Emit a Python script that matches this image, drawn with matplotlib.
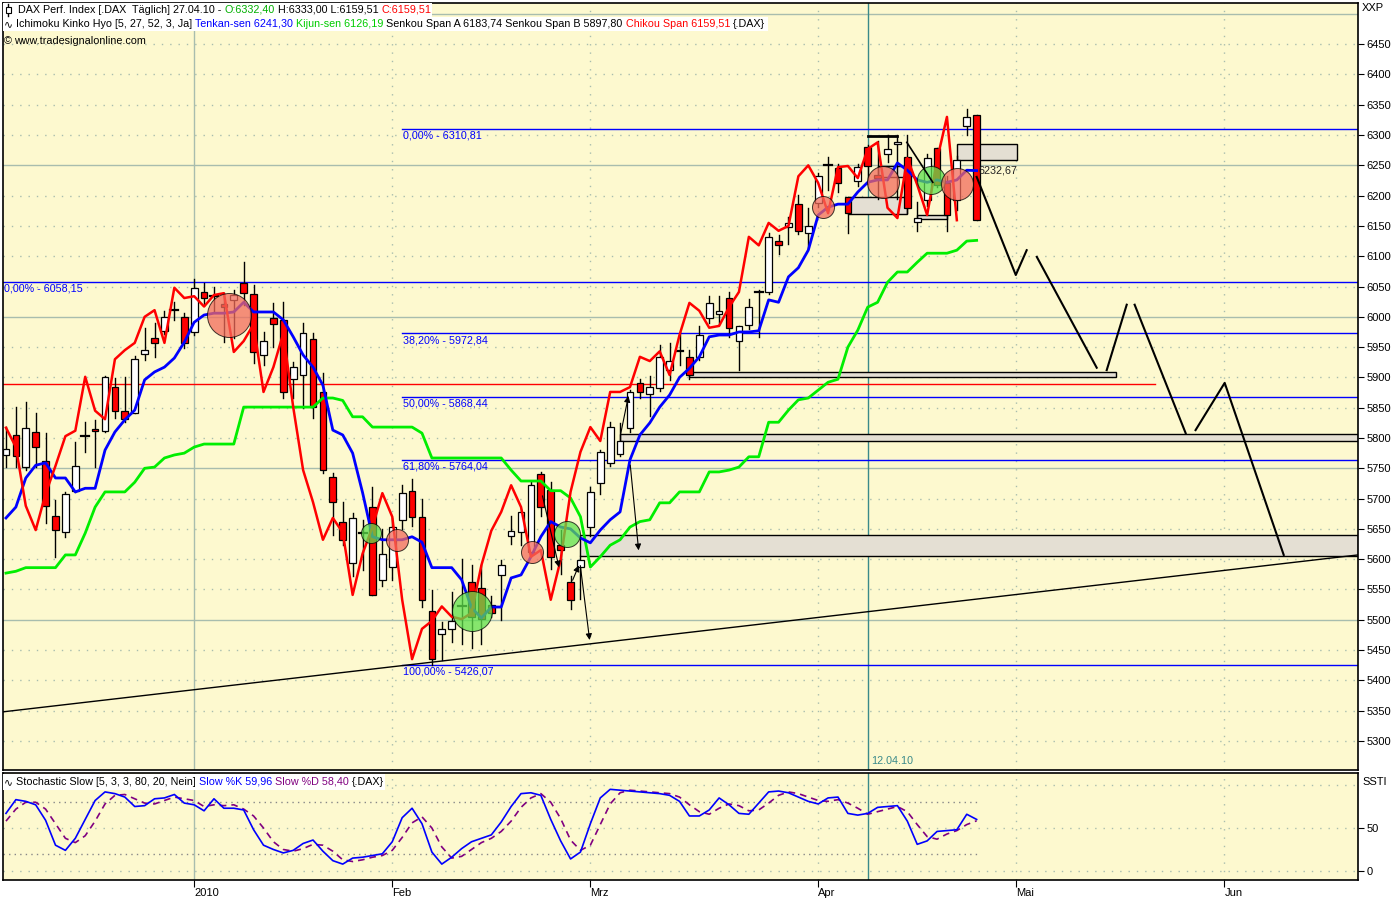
import matplotlib
matplotlib.use("Agg")
import matplotlib.pyplot as plt
from matplotlib.patches import Rectangle
from matplotlib.lines import Line2D

plt.rcParams["font.family"] = ["Liberation Sans", "DejaVu Sans"]
plt.rcParams["font.size"] = 8

W, H = 1400, 900

# ---- daily bars, index 0 = 04.01.2010 (trading-day index)
bar_idx = list(range(-19, 80))
opens = [5772, 5805, 5752, 5810, 5762, 5671, 5645, 5713, 5802, 5815, 5812, 5884, 5845, 5841, 5939, 5965, 5977, 6010, 6000,
         5975, 6041, 6033, 6021, 6027, 6056, 6038, 5937, 5998, 5995,
         5897, 5904, 5963, 5876, 5736, 5661, 5594, 5643, 5686, 5566,
         5587, 5664, 5712, 5670, 5515, 5477, 5485, 5521, 5562, 5553,
         5524, 5574, 5638, 5645, 5612, 5740, 5714, 5623, 5562, 5587,
         5653, 5726, 5759, 5773, 5817, 5891, 5873, 5883, 5912, 5942,
         5934, 5934, 5998, 6005, 6031, 5960, 5986, 6040, 6041, 6125,
         6148, 6186, 6138, 6188, 6249, 6246, 6198, 6224, 6280, 6234,
         6269, 6285, 6264, 6157, 6193, 6279, 6221, 6193, 6315, 6332.40]
highs = [5818, 5851, 5859, 5841, 5808, 5698, 5711, 5793, 5826, 5830, 5902, 5899, 5901, 5936, 5982, 5990, 6009, 6024, 6006,
         6062, 6056, 6050, 6039, 6045, 6090, 6052, 5975, 6022, 6024,
         5925, 5990, 5973, 5908, 5743, 5694, 5676, 5664, 5719, 5650,
         5668, 5722, 5733, 5699, 5549, 5497, 5545, 5600, 5590, 5590,
         5540, 5598, 5672, 5683, 5727, 5744, 5727, 5648, 5572, 5605,
         5719, 5780, 5827, 5824, 5880, 5897, 5902, 5953, 5956, 5975,
         5945, 5985, 6034, 6034, 6041, 5985, 6029, 6045, 6138, 6135,
         6165, 6201, 6179, 6237, 6263, 6252, 6198, 6252, 6283, 6290,
         6300, 6300, 6300, 6190, 6268, 6279, 6232, 6265, 6343, 6333.00]
lows = [5752, 5752, 5747, 5752, 5660, 5604, 5637, 5711, 5777, 5752, 5810, 5833, 5826, 5841, 5929, 5934, 5972, 5995, 5949,
        5970, 6020, 6010, 5958, 5965, 6020, 5924, 5920, 5950, 5866,
        5866, 5850, 5833, 5743, 5640, 5624, 5573, 5582, 5541, 5555,
        5565, 5650, 5655, 5521, 5426.07, 5433, 5463, 5460, 5454, 5460,
        5505, 5500, 5625, 5624, 5612, 5672, 5583, 5575, 5518, 5535,
        5639, 5708, 5754, 5770, 5810, 5866, 5837, 5878, 5895, 5920,
        5898, 5928, 5990, 5988, 5966, 5912, 5980, 5967, 6038, 6104,
        6121, 6136, 6113, 6182, 6210, 6206, 6138, 6216, 6219, 6194,
        6256, 6194, 6172, 6141, 6183, 6214, 6141, 6176, 6300, 6159.51]
closes = [5782, 5770, 5817, 5785, 5688, 5648, 5708, 5754, 5803, 5812, 5901, 5845, 5831, 5930, 5945, 5957, 6000, 6011, 5957,
          6048, 6031, 6034, 6017, 6036, 6039, 5942, 5960, 5988, 5876,
          5917, 5973, 5851, 5747, 5694, 5632, 5668, 5644, 5541, 5609,
          5653, 5709, 5670, 5533, 5435, 5485, 5498, 5522, 5505, 5501,
          5511, 5590, 5647, 5678, 5722, 5686, 5604, 5615, 5533, 5599,
          5711, 5777, 5818, 5795, 5876, 5876, 5884, 5934, 5927, 5943,
          5904, 5970, 6023, 6010, 5982, 5985, 6016, 6041, 6132, 6118,
          6155, 6142, 6150, 6232, 6250, 6221, 6171, 6247, 6249, 6229,
          6277, 6288, 6180, 6163, 6262, 6218, 6168, 6259, 6330, 6159.51]
chikou_shift = 2

tenkan = [5668, 5686, 5734, 5755, 5759, 5734, 5734, 5711, 5717, 5717, 5780, 5810, 5830, 5846, 5896, 5909, 5917, 5932, 5958,
          5991, 6003, 6006, 6006, 6008, 6024, 6008, 6008, 6008, 5995,
          5967, 5937, 5917, 5887, 5813, 5805, 5775, 5710, 5637, 5632,
          5632, 5632, 5637, 5628, 5586, 5586, 5586, 5566, 5520, 5503,
          5521, 5521, 5569, 5574, 5604, 5637, 5662, 5653, 5650, 5635,
          5627, 5648, 5665, 5678, 5764, 5805, 5825, 5851, 5871, 5900,
          5915, 5934, 5967, 5970, 5970, 5975, 5975, 5977, 6028, 6024,
          6066, 6081, 6110, 6168, 6181, 6186, 6186, 6206, 6222, 6226,
          6226, 6254, 6242, 6226, 6222, 6226, 6222, 6226, 6242, 6241.30]
kijun = [5577, 5580, 5586, 5586, 5586, 5586, 5607, 5607, 5643, 5686, 5711, 5711, 5711, 5727, 5750, 5752, 5767, 5772, 5775,
         5785, 5790, 5790, 5790, 5790, 5851, 5851, 5851, 5851, 5851,
         5851, 5851, 5851, 5866, 5866, 5862, 5835, 5835, 5818, 5818,
         5818, 5818, 5818, 5808, 5767, 5767, 5767, 5767, 5767, 5767,
         5767, 5767, 5747, 5729, 5729, 5729, 5713, 5713, 5701, 5670,
         5587, 5604, 5623, 5632, 5653, 5662, 5665, 5693, 5693, 5711,
         5711, 5711, 5744, 5744, 5747, 5752, 5769, 5769, 5826, 5826,
         5846, 5863, 5866, 5879, 5892, 5897, 5950, 5978, 6016, 6024,
         6057, 6074, 6074, 6090, 6105, 6105, 6105, 6110, 6125, 6126.19]

stoch_k = [67, 83, 81, 77, 59, 30, 24, 38, 60, 82, 92, 90, 86, 75, 76, 84, 85, 89, 79,
           77, 70, 84, 73, 73, 71, 48, 30, 25, 21,
           24, 32, 36, 23, 12, 8, 15, 16, 18, 20,
           34, 62, 73, 55, 22, 8, 16, 26, 34, 38,
           42, 57, 75, 90, 91, 88, 60, 35, 14, 22,
           55, 85, 95, 94, 93, 92, 91, 90, 88, 81,
           64, 64, 71, 85, 77, 67, 66, 79, 92, 93,
           91, 86, 81, 78, 85, 86, 67, 65, 67, 74,
           75, 76, 58, 31, 35, 46, 47, 48, 66, 59.96]
stoch_d = [58, 72, 80, 80, 72, 55, 38, 33, 41, 58, 78, 88, 89, 84, 79, 78, 82, 86, 84,
           82, 75, 77, 76, 77, 72, 64, 50, 34, 25,
           23, 26, 31, 30, 23, 13, 11, 13, 16, 18,
           24, 39, 56, 63, 50, 28, 15, 17, 25, 33,
           38, 46, 58, 74, 85, 90, 80, 61, 36, 24,
           30, 54, 78, 91, 94, 93, 92, 91, 90, 86,
           77, 69, 66, 73, 78, 76, 70, 71, 79, 88,
           92, 90, 86, 82, 81, 83, 79, 73, 66, 69,
           72, 75, 69, 54, 40, 37, 43, 47, 54, 58.40]

# ---- axis labels
month_pos = [0, 20, 40, 63, 83, 104]
month_labels = ["2010", "Feb", "Mrz", "Apr", "Mai", "Jun"]
marker_pos = 68
marker_label = "12.04.10"

# ---- fibonacci levels (retracement drawn from 01.02.)
fib_start = 21.0
fib_levels = [6310.81, 5972.84, 5868.44, 5764.04, 5426.07]
fib_labels = ["0,00% - 6310,81", "38,20% - 5972,84", "50,00% - 5868,44", "61,80% - 5764,04", "100,00% - 5426,07"]
fib0_level = 6058.15
fib0_label = "0,00% - 6058,15"

red_level = 5889
red_level_end = 97.0

# ---- support / resistance boxes
zone_x0 = [77.0, 66.0, 69.0, 72.96, 49.95, 43.0, 38.95]
zone_x1 = [83.05, 72.0, 72.0, 75.98, 93.1, 117.5, 117.5]
zone_lo = [6259, 6170, 6231, 6161, 5901, 5795, 5605]
zone_hi = [6285, 6198, 6249, 6168, 5909, 5807, 5640]

trend_x = [-19.3, 117.5]
trend_y = [5348, 5607]

# ---- forecast zig-zag segments
fc_x = [[79.0, 82.95, 84.05], [85.07, 91.12], [92.13, 94.15], [94.95, 100.1], [101.1, 104.04, 110.0]]
fc_y = [[6231, 6069, 6110], [6099, 5916], [5912, 6020], [6020, 5808], [5813, 5891, 5607]]

# ---- arrows (start -> end)
arrow_x0 = [44.0, 38.95, 38.1, 35.1, 43.0]
arrow_y0 = [5760, 5594, 5561, 5709, 5802]
arrow_x1 = [44.9, 39.96, 38.95, 36.9, 43.9]
arrow_y1 = [5610, 5462, 5594, 5582, 5874]

# ---- crossover circles
circ_x = [3.5, 17.9, 20.5, 28.0, 34.1, 37.6, 63.5, 69.5, 74.4, 77.0]
circ_y = [6003, 5643, 5632, 5514, 5612, 5642, 6181, 6223, 6226, 6220]
circ_r = [22, 10, 11, 20, 11, 13, 11, 16, 14, 16]
circ_kind = ["r", "g", "r", "g", "r", "g", "r", "r", "g", "r"]

BG = "#FDF9CF"
GRID = "#A8BDAE"
TEAL = "#3A8A8A"
FS = 7.75

fig = plt.figure(figsize=(W / 100, H / 100), dpi=100, facecolor="white")


def fx(px):
    return px / W


def fy(py):
    return 1 - py / H


ax = fig.add_axes([fx(3), fy(770), (1358 - 3) / W, (770 - 3) / H])
ax2 = fig.add_axes([fx(3), fy(880), (1358 - 3) / W, (880 - 773) / H], sharex=ax)

for a in (ax, ax2):
    a.set_facecolor(BG)
    for s in a.spines.values():
        s.set_color("black")
        s.set_linewidth(1.2)
ax.set_xlim(-19.3, 117.5)
ax.set_ylim(5252, 6518)
ax2.set_ylim(-10.5, 114)

# grid
for lvl in range(5300, 6501, 50):
    if lvl % 250 == 0:
        ax.axhline(lvl, color=GRID, lw=1, zorder=1)
    else:
        ax.axhline(lvl, color=GRID, lw=1, ls=(0, (1, 5)), zorder=1)
for p, lab in zip(month_pos, month_labels):
    for a in (ax, ax2):
        if lab == "2010":
            a.axvline(p, color=GRID, lw=1, zorder=1)
        else:
            a.axvline(p, color=GRID, lw=1, ls=(0, (1, 5)), zorder=1)
for a in (ax, ax2):
    a.axvline(marker_pos, color=TEAL, lw=1, zorder=1)
ax.text(marker_pos + 0.3, 5267, marker_label, color=TEAL, fontsize=FS, va="center", ha="left")

# fibonacci + horizontal levels
ax.plot([-19.3, 117.5], [fib0_level] * 2, color="#0000FF", lw=1, zorder=2)
ax.annotate(fib0_label, (-19.2, fib0_level), xytext=(0, -1.5), textcoords="offset points",
            va="top", ha="left", color="#0000FF", fontsize=FS)
for lvl, lab in zip(fib_levels, fib_labels):
    ax.plot([fib_start, 117.5], [lvl, lvl], color="#0000FF", lw=1, zorder=2)
    ax.annotate(lab, (fib_start, lvl), xytext=(0.5, -1.5), textcoords="offset points",
                va="top", ha="left", color="#0000FF", fontsize=FS)
ax.plot([-19.3, red_level_end], [red_level] * 2, color="#FF0000", lw=1, zorder=2)

# zones
for x0, x1, lo, hi in zip(zone_x0, zone_x1, zone_lo, zone_hi):
    ax.add_patch(Rectangle((x0, lo), x1 - x0, hi - lo, facecolor="#E4DFD3", edgecolor="black", lw=1, zorder=2))

ax.plot(trend_x, trend_y, color="black", lw=1, zorder=3)

# candles
for i, o, h, l, c in zip(bar_idx, opens, highs, lows, closes):
    ax.plot([i, i], [l, h], color="black", lw=1, zorder=4)
    lo, hi = min(o, c), max(o, c)
    if hi - lo < 2.5:
        ax.plot([i - 0.4, i + 0.4], [c, c], color="black", lw=1.6, zorder=5)
    else:
        fc = "#FF0000" if c < o else "white"
        ax.add_patch(Rectangle((i - 0.34, lo), 0.68, hi - lo, facecolor=fc, edgecolor="black", lw=0.9, zorder=5))

# ichimoku lines
ax.plot(bar_idx, kijun, color="#00EE00", lw=2, zorder=6)
ax.plot(bar_idx, tenkan, color="#0000FF", lw=2, zorder=6)
ax.plot(bar_idx[:-chikou_shift], closes[chikou_shift:], color="#FF0000", lw=1.8, zorder=6)

# crossover circles
for x, y, r, k in zip(circ_x, circ_y, circ_r, circ_kind):
    col = "#F26B5B" if k == "r" else "#5EE04C"
    ax.scatter([x], [y], s=(1.44 * r) ** 2, facecolor=col, edgecolor="black", linewidths=0.7, alpha=0.75, zorder=7)

# forecast path and drawings
for xs, ys in zip(fc_x, fc_y):
    ax.plot(xs, ys, color="black", lw=1.5, zorder=8)
ax.plot([71.95, 74.57], [6288, 6222], color="black", lw=1.2, zorder=8)
ax.plot([68, 71], [6298, 6298], color="black", lw=2, zorder=8)
for x0, y0, x1, y1 in zip(arrow_x0, arrow_y0, arrow_x1, arrow_y1):
    ax.annotate("", xy=(x1, y1), xytext=(x0, y0),
                arrowprops=dict(arrowstyle="-|>", color="black", lw=0.8, mutation_scale=9), zorder=8)
ax.text(bar_idx[-1] + 0.2, 6241, "6232,67", fontsize=FS, va="center", ha="left", color="#222222", zorder=9)

# stochastic panel
for lvl in (0, 50, 100):
    ax2.axhline(lvl, color=GRID, lw=1, ls=(0, (1, 5)), zorder=1)
for lvl in (20, 80):
    ax2.plot([-19.3, bar_idx[-1]], [lvl, lvl], color="#888888", lw=1, ls=(0, (1, 3)), zorder=1)
ax2.plot(bar_idx, stoch_k, color="#0000FF", lw=1.2, zorder=4)
ax2.plot(bar_idx, stoch_d, color="#800080", lw=1.2, ls=(0, (4, 3)), zorder=3)

# axes ticks
ax.yaxis.tick_right()
ax.set_yticks(range(5300, 6451, 50))
ax.set_yticklabels([str(v) for v in range(5300, 6451, 50)])
ax.tick_params(axis="y", direction="out", length=4, pad=2, labelsize=8)
ax.tick_params(axis="x", bottom=False, labelbottom=False)
ax2.yaxis.tick_right()
ax2.set_yticks([0, 50])
ax2.set_yticklabels(["0", "50"])
ax2.tick_params(axis="y", direction="out", length=4, pad=2, labelsize=8)
ax2.set_xticks(month_pos)
ax2.set_xticklabels(month_labels, ha="left")
ax2.tick_params(axis="x", direction="out", length=5, pad=1, labelsize=8)

fig.text(fx(1362), fy(8), "XXP", fontsize=8, va="center", ha="left")
fig.text(fx(1362), fy(782), "SSTI", fontsize=8, va="center", ha="left")

# header rows
renderer = fig.canvas.get_renderer()


def put_row(x_px, y_px, parts, gap=3.0):
    x = x_px
    for s, col in parts:
        t = fig.text(fx(x), fy(y_px), s, color=col, fontsize=FS, va="center", ha="left", zorder=11)
        x += t.get_window_extent(renderer=renderer).width + gap
    return x


fig.add_artist(Rectangle((fx(3), fy(17)), fx(432) - fx(3), fy(3) - fy(17), transform=fig.transFigure,
                         facecolor="white", edgecolor="none", zorder=10))
fig.add_artist(Rectangle((fx(3), fy(31)), fx(768) - fx(3), fy(17) - fy(31), transform=fig.transFigure,
                         facecolor="white", edgecolor="none", zorder=10))
fig.add_artist(Rectangle((fx(3), fy(790)), fx(385) - fx(3), fy(774) - fy(790), transform=fig.transFigure,
                         facecolor="white", edgecolor="none", zorder=10))
fig.add_artist(Line2D([fx(8), fx(8)], [fy(4), fy(16)], transform=fig.transFigure, color="black", lw=1, zorder=11))
fig.add_artist(Rectangle((fx(5.5), fy(13)), fx(5), fy(7) - fy(13), transform=fig.transFigure,
                         facecolor="white", edgecolor="black", lw=0.8, zorder=12))

put_row(18, 10, [("DAX Perf. Index [.DAX  Täglich] 27.04.10 -", "black"), ("O:6332,40", "#00B000"),
                 ("H:6333,00 L:6159,51", "black"), ("C:6159,51", "#FF0000")])
put_row(4, 24, [("∿", "black")], gap=1)
put_row(16, 24, [("Ichimoku Kinko Hyo [5, 27, 52, 3, Ja]", "black"), ("Tenkan-sen 6241,30", "#0000FF"),
                 ("Kijun-sen 6126,19", "#00CC00"), ("Senkou Span A 6183,74 Senkou Span B 5897,80", "black"),
                 ("Chikou Span 6159,51", "#FF0000"), ("{.DAX}", "black")])
put_row(4, 41, [("©", "black"), ("www.tradesignalonline.com", "black")], gap=2)
put_row(4, 782, [("∿", "black")], gap=1)
put_row(16, 782, [("Stochastic Slow [5, 3, 3, 80, 20, Nein]", "black"), ("Slow %K 59,96", "#0000FF"),
                  ("Slow %D 58,40", "#800080"), ("{.DAX}", "black")])

fig.savefig("out.png", dpi=100, facecolor="white")
